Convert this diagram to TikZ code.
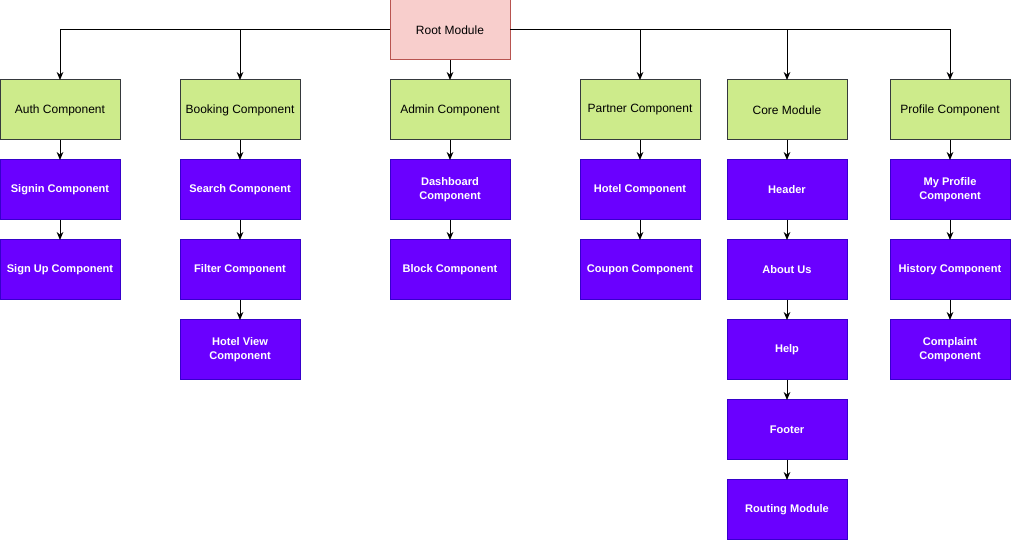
\documentclass[tikz,border=0pt]{standalone}
\usepackage{fontspec}
\setmainfont{Liberation Sans}
\usetikzlibrary{arrows.meta}
\definecolor{rootfill}{HTML}{F8CECC}
\definecolor{rootline}{HTML}{B85450}
\definecolor{compfill}{HTML}{CDEB8B}
\definecolor{compline}{HTML}{36393D}
\definecolor{partfill}{HTML}{6A00FF}
\definecolor{partline}{HTML}{3700CC}
\begin{document}
\begin{tikzpicture}[x=0.75pt,y=-0.75pt]
      % Define styles for nodes
      \tikzstyle{box} = [draw, rectangle, minimum width=90pt, minimum height=45pt,
      inner sep=1pt, outer sep=0pt, line width=0.75pt, align=center,
      font=\fontsize{9}{10.5}\selectfont]
      \tikzstyle{rootbox} = [box, fill=rootfill, draw=rootline]
      \tikzstyle{comp} = [box, fill=compfill, draw=compline]
      \tikzstyle{part} = [box, fill=partfill, draw=partline, text=white,
      font=\fontsize{8.3}{10.5}\selectfont\bfseries]
      \tikzstyle{link} = [line width=0.75pt, -{Stealth[length=6pt,width=5pt]}]

      \useasboundingbox (0,0) rectangle (1011,541);

      % Root at top
      \node[rootbox] (root) at (450,30) {Root Module};

      % Top level components
      \node[comp] (auth) at (60,110) {Auth Component};
      \node[comp] (booking) at (240,110) {Booking Component};
      \node[comp] (admin) at (450,110) {Admin Component};
      \node[comp] (partner) at (640,110) {Partner Component};
      \node[comp] (core) at (787,110) {Core Module};
      \node[comp] (profile) at (950,110) {Profile Component};

      % Auth parts
      \node[part] (signin) at (60,190) {Signin Component};
      \node[part] (signup) at (60,270) {Sign Up Component};

      % Booking parts
      \node[part] (search) at (240,190) {Search Component};
      \node[part] (filter) at (240,270) {Filter Component};
      \node[part] (hotelview) at (240,350) {Hotel View\\Component};

      % Admin parts
      \node[part] (dashboard) at (450,190) {Dashboard\\Component};
      \node[part] (block) at (450,270) {Block Component};

      % Partner parts
      \node[part] (hotel) at (640,190) {Hotel Component};
      \node[part] (coupon) at (640,270) {Coupon Component};

      % Core parts
      \node[part] (header) at (787,190) {Header};
      \node[part] (about) at (787,270) {About Us};
      \node[part] (help) at (787,350) {Help};
      \node[part] (footer) at (787,430) {Footer};
      \node[part] (routing) at (787,510) {Routing Module};

      % Profile parts
      \node[part] (myprofile) at (950,190) {My Profile\\Component};
      \node[part] (history) at (950,270) {History Component};
      \node[part] (complaint) at (950,350) {Complaint\\Component};

      % Connections from root
      \draw[link] (root.west) -| (auth.north);
      \draw[link] (root.west) -| (booking.north);
      \draw[link] (root.south) -- (admin.north);
      \draw[link] (root.east) -| (partner.north);
      \draw[link] (root.east) -| (core.north);
      \draw[link] (root.east) -| (profile.north);

      % Connections in columns
      \draw[link] (auth) -- (signin);
      \draw[link] (signin) -- (signup);

      \draw[link] (booking) -- (search);
      \draw[link] (search) -- (filter);
      \draw[link] (filter) -- (hotelview);

      \draw[link] (admin) -- (dashboard);
      \draw[link] (dashboard) -- (block);

      \draw[link] (partner) -- (hotel);
      \draw[link] (hotel) -- (coupon);

      \draw[link] (core) -- (header);
      \draw[link] (header) -- (about);
      \draw[link] (about) -- (help);
      \draw[link] (help) -- (footer);
      \draw[link] (footer) -- (routing);

      \draw[link] (profile) -- (myprofile);
      \draw[link] (myprofile) -- (history);
      \draw[link] (history) -- (complaint);
    \end{tikzpicture}
\end{document}
